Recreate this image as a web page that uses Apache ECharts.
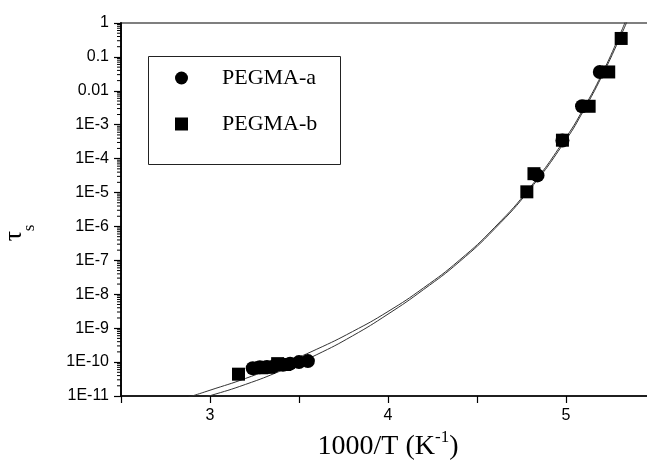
<!DOCTYPE html>
<html><head><meta charset="utf-8">
<script src="https://cdn.jsdelivr.net/npm/echarts@6/dist/echarts.min.js"></script>
<style>html,body{margin:0;padding:0;background:#fff}#c{width:647px;height:466px}</style>
</head><body><div id="c"></div>
<script>
// PEGMA-a (circles)
const aX = [3.24, 3.28, 3.32, 3.36, 3.41, 3.45, 3.50, 3.55, 4.84, 4.98, 5.09, 5.19];
const aY = [6.6e-11, 7.0e-11, 7.2e-11, 7.6e-11, 8.3e-11, 9.0e-11, 1.0e-10, 1.07e-10, 3.2e-5, 3.4e-4, 3.5e-3, 3.6e-2];
// PEGMA-b (squares)
const bX = [3.16, 3.29, 3.33, 3.38, 3.42, 4.78, 4.82, 4.98, 5.13, 5.24, 5.31];
const bY = [4.4e-11, 6.8e-11, 7.0e-11, 9.0e-11, 8.5e-11, 1.05e-5, 3.6e-5, 3.5e-4, 3.5e-3, 3.6e-2, 0.35];
// fitted curves
const fitX  = [2.85, 2.9, 3.0, 3.2, 3.4, 3.6, 3.8, 4.0, 4.2, 4.4, 4.6, 4.8, 5.0, 5.1, 5.2, 5.3, 5.36];
const fit1Y = [8.3e-12, 1.0e-11, 1.48e-11, 3.3e-11, 8.5e-11, 2.4e-10, 7.9e-10, 3.1e-9, 1.55e-8, 1.0e-7, 9.5e-7, 1.45e-5, 4.2e-4, 3.1e-3, 3.0e-2, 0.42, 2.4];
const fit2Y = [6.3e-12, 7.4e-12, 1.02e-11, 2.2e-11, 5.6e-11, 1.66e-10, 5.9e-10, 2.6e-9, 1.38e-8, 9.0e-8, 8.6e-7, 1.3e-5, 3.6e-4, 2.7e-3, 2.6e-2, 0.34, 1.8];
// tick labels
const xTickLabels = ['3', '4', '5'];
const yTickLabels = ['1', '0.1', '0.01', '1E-3', '1E-4', '1E-5', '1E-6', '1E-7', '1E-8', '1E-9', '1E-10', '1E-11'];
const seriesNames = ['PEGMA-a', 'PEGMA-b'];

const zip = (xs, ys) => xs.map((x, i) => [x, ys[i]]);
const SANS = 'Liberation Sans, Arial, sans-serif';
const SERIF = 'Liberation Serif, Times New Roman, serif';

// log-axis minor tick values (2..9 in each decade)
const minorTickVals = [];
for (let e = -11; e < 0; e++) for (let m = 2; m <= 9; m++) minorTickVals.push(m * Math.pow(10, e));

const chart = echarts.init(document.getElementById('c'), null, {renderer: 'canvas'});
const lineStyle = {color: '#333', width: 1};
chart.setOption({
  animation: false,
  backgroundColor: '#fff',
  grid: {left: 121, top: 23, width: 534, bottom: 70, outerBoundsMode: 'none', containLabel: false,
         show: true, borderColor: '#000', borderWidth: 1.2, backgroundColor: 'transparent'},
  xAxis: {
    type: 'value', min: 2.5, max: 5.5, interval: 0.5,
    axisLine: {show: true, onZero: false, lineStyle: {color: '#000', width: 1.5}},
    axisTick: {show: true, inside: false, length: 7, lineStyle: {color: '#000', width: 1.2}},
    splitLine: {show: false},
    axisLabel: {
      color: '#000', fontFamily: SANS, fontSize: 16, margin: 12,
      formatter: v => { const s = String(Math.round(v)); return (Math.abs(v - Math.round(v)) < 1e-6 && xTickLabels.includes(s)) ? s : ''; }
    },
    name: '{a|1000/T (K}{s|-1}{a|)}',
    nameLocation: 'middle', nameGap: 20,
    nameTextStyle: {
      rich: {
        a: {fontFamily: SERIF, fontSize: 28, color: '#000', lineHeight: 32, verticalAlign: 'bottom'},
        s: {fontFamily: SERIF, fontSize: 17, color: '#000', lineHeight: 32, verticalAlign: 'top'}
      }
    }
  },
  yAxis: {
    type: 'log', logBase: 10, min: 1e-11, max: 1, interval: 1,
    axisLine: {show: true, onZero: false, lineStyle: {color: '#000', width: 1.8}},
    axisTick: {show: true, inside: false, length: 7, lineStyle: {color: '#000', width: 1.2}},
    splitLine: {show: false},
    axisLabel: {
      color: '#000', fontFamily: SANS, fontSize: 16, margin: 12,
      formatter: v => { const k = Math.round(-Math.log10(v)); return yTickLabels[k] !== undefined ? yTickLabels[k] : ''; }
    }
  },
  legend: {
    orient: 'vertical', left: 175, top: 67, padding: 0, itemGap: 24,
    itemWidth: 13, itemHeight: 13,
    data: [{name: seriesNames[0], icon: 'circle'}, {name: seriesNames[1], icon: 'rect'}],
    textStyle: {fontFamily: SERIF, fontSize: 22, color: '#000', lineHeight: 22, padding: [0, 0, 0, 29]},
    itemStyle: {color: '#000'}
  },
  graphic: [
    {type: 'rect', left: 146, top: 54, shape: {width: 192, height: 108}, style: {fill: 'none', stroke: '#222', lineWidth: 1}, z: 10},
    {type: 'text', x: 14, y: 236, rotation: Math.PI / 2, style: {text: 'τ', font: '26px ' + SERIF, fill: '#000', align: 'center', verticalAlign: 'middle'}},
    {type: 'text', x: 30, y: 228, rotation: Math.PI / 2, style: {text: 's', font: '17px ' + SERIF, fill: '#000', align: 'center', verticalAlign: 'middle'}}
  ],
  series: [
    {name: 'fit1', type: 'line', data: zip(fitX, fit1Y), smooth: true, showSymbol: false, symbol: 'none', lineStyle, silent: true, z: 1},
    {name: 'fit2', type: 'line', data: zip(fitX, fit2Y), smooth: true, showSymbol: false, symbol: 'none', lineStyle, silent: true, z: 1},
    {name: seriesNames[0], type: 'scatter', data: zip(aX, aY), symbol: 'circle', symbolSize: 14, itemStyle: {color: '#000', opacity: 1}, z: 3},
    {name: seriesNames[1], type: 'scatter', data: zip(bX, bY), symbol: 'rect', symbolSize: 13, itemStyle: {color: '#000', opacity: 1}, z: 3},
    {
      name: 'yMinorTicks', type: 'custom', silent: true, clip: false, z: 5,
      data: minorTickVals.map(v => [2.5, v]),
      encode: {x: 0, y: 1},
      renderItem: (params, api) => {
        const p = api.coord([api.value(0), api.value(1)]);
        return {type: 'line', shape: {x1: p[0] - 4, y1: p[1], x2: p[0], y2: p[1]}, style: {stroke: '#000', lineWidth: 1}};
      }
    }
  ]
});
</script>
</body></html>
